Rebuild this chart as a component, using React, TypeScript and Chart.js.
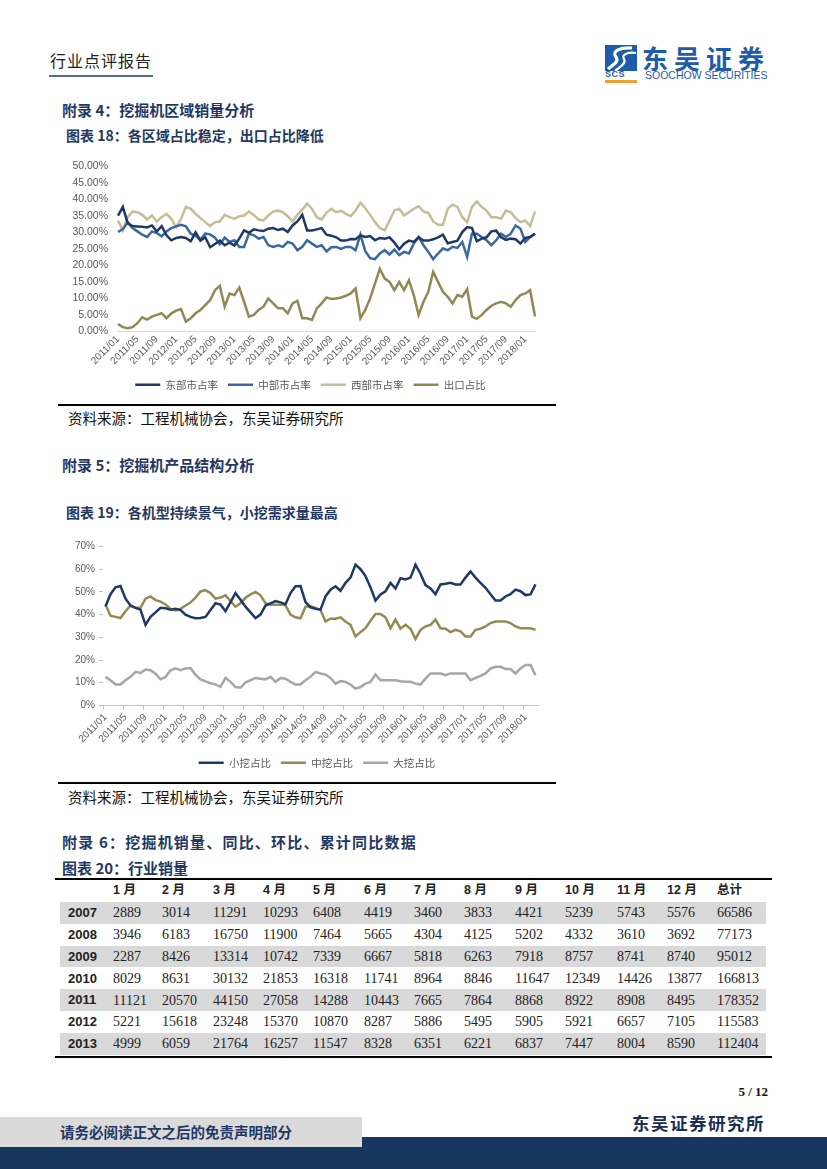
import React, { useEffect, useRef } from "react";
import { Chart, registerables } from "chart.js";

Chart.register(...registerables);

const CJK = '"Noto Sans CJK SC", sans-serif';
const SANS = '"Liberation Sans", Arial, sans-serif';
const SERIF = '"Liberation Serif", "Times New Roman", serif';

// ---------- categories ----------
const START_YEAR = 2011;
const MONTH_COUNT = 87; // 2011/01 - 2018/03
const monthLabels: string[] = Array.from({ length: MONTH_COUNT }, (_, i) => {
  const y = START_YEAR + Math.floor(i / 12);
  const m = (i % 12) + 1;
  return `${y}/${String(m).padStart(2, "0")}`;
});
const LABEL_EVERY = 4;

// ---------- chart 18: regional share (%) ----------
const eastShare = [
  35.1, 37.7, 32.8, 31.9, 31.8, 31.7, 31.5, 32.1, 30.3, 31.9,
  29.1, 27.6, 28.3, 28.6, 28.3, 27.3, 30.0, 27.5, 28.5, 25.5,
  26.5, 27.5, 26.1, 26.9, 26.0, 28.1, 30.6, 29.9, 30.9, 30.6,
  30.4, 31.1, 31.3, 30.7, 31.1, 30.1, 32.1, 33.3, 35.3, 30.6,
  30.6, 30.9, 31.3, 29.3, 29.0, 28.5, 27.5, 27.5, 28.0, 27.9,
  29.1, 28.6, 28.9, 27.6, 28.3, 28.1, 28.5, 26.9, 24.9, 26.6,
  27.5, 27.1, 28.5, 27.5, 27.5, 27.9, 28.5, 29.3, 26.7, 27.1,
  27.5, 30.1, 31.6, 31.3, 27.3, 28.1, 28.5, 30.3, 30.5, 28.5,
  27.7, 28.1, 27.9, 26.6, 28.3, 28.6, 29.6,
];
const centralShare = [
  30.1, 31.0, 33.0, 31.3, 30.3, 29.3, 28.6, 30.3, 29.8, 28.8,
  30.3, 31.3, 31.8, 32.3, 31.8, 29.6, 29.0, 27.8, 29.6, 29.4,
  28.4, 26.4, 28.4, 27.1, 27.6, 25.6, 25.6, 29.6, 29.1, 28.1,
  28.6, 26.1, 25.6, 26.1, 25.6, 27.1, 26.6, 24.6, 25.6, 27.6,
  26.6, 25.6, 26.1, 24.2, 25.5, 25.6, 25.0, 25.6, 25.6, 24.6,
  29.3, 24.3, 22.2, 21.9, 23.6, 24.6, 23.3, 24.8, 23.1, 24.1,
  23.6, 26.6, 28.6, 26.1, 24.1, 21.9, 23.6, 25.1, 24.6, 25.6,
  25.3, 27.1, 22.6, 29.6, 29.6, 28.6, 27.6, 26.1, 27.6, 29.6,
  28.6, 29.6, 32.1, 31.1, 27.1, 28.6, 29.6,
];
const westShare = [
  33.6, 30.6, 34.6, 36.3, 36.1, 35.3, 33.9, 35.1, 33.3, 34.6,
  35.6, 34.1, 31.6, 34.1, 37.7, 37.1, 35.6, 34.3, 33.1, 31.9,
  33.1, 33.3, 35.3, 34.6, 34.1, 34.9, 35.1, 36.3, 35.3, 33.9,
  33.6, 35.1, 36.3, 36.6, 36.1, 34.9, 33.3, 35.3, 36.9, 38.7,
  37.1, 34.6, 33.9, 36.0, 37.1, 36.1, 36.5, 35.6, 34.9, 36.6,
  39.0, 37.3, 35.3, 33.1, 31.3, 30.6, 33.6, 36.6, 37.1, 35.1,
  36.1, 37.1, 37.9, 36.3, 35.9, 33.3, 32.3, 32.3, 37.1, 38.4,
  37.7, 34.6, 33.1, 37.7, 39.4, 37.7, 36.6, 34.6, 34.6, 34.1,
  36.6, 36.1, 34.3, 33.1, 33.6, 31.9, 36.3,
];
const exportShare = [
  2.2, 1.3, 1.0, 1.3, 2.5, 4.3, 3.6, 4.5, 5.0, 5.5,
  4.0, 5.5, 6.3, 6.8, 3.0, 4.0, 5.5, 6.5, 8.0, 9.5,
  12.5, 13.8, 7.5, 11.5, 11.0, 13.3, 9.0, 4.5, 5.0, 6.5,
  7.5, 10.0, 8.5, 7.0, 7.0, 5.5, 8.5, 9.3, 4.0, 4.0,
  3.5, 7.0, 8.5, 10.3, 9.8, 10.0, 10.3, 10.8, 11.5, 13.0,
  4.0, 6.5, 10.0, 14.5, 19.0, 16.0, 15.0, 12.5, 15.0, 12.5,
  15.5, 11.0, 5.0, 9.0, 12.0, 18.0, 15.0, 12.0, 10.5, 8.5,
  11.0, 10.5, 12.8, 4.5, 3.8, 5.0, 6.5, 7.8, 8.5, 9.0,
  8.5, 7.5, 9.5, 11.0, 11.5, 12.5, 4.5,
];
const regionNames = ["东部市占率", "中部市占率", "西部市占率", "出口占比"];

// ---------- chart 19: product structure (%) ----------
const smallShare = [
  43.7, 49, 52, 52.6, 47, 44, 43, 42.2, 35.5, 39,
  41, 43, 42.8, 42.2, 42.6, 42, 40, 39, 38.4, 38.5,
  39, 42, 45, 44.4, 41.5, 45.5, 49.5, 46.5, 43.5, 41,
  38.5, 40, 44, 45, 46, 45.4, 44.6, 49.5, 52.5, 52.6,
  45.5, 43.2, 42.6, 42.2, 48, 51, 52.5, 50.5, 54, 56.3,
  62, 60, 57, 52, 46.2, 48.9, 50.3, 54, 51.5, 56,
  55.5, 56.3, 62, 58, 53, 51.5, 49, 53.3, 53.6, 54,
  53.3, 53.3, 56.3, 59, 56.3, 54, 51.8, 49, 46.2, 46.2,
  48, 49, 51, 50.3, 48.6, 48.9, 53.3,
];
const mediumShare = [
  44.5, 39.5, 39, 38.5, 41.5, 44, 43, 43, 47, 48,
  46.4, 45.7, 44.5, 42.5, 41.8, 42.5, 44, 45.3, 47.5, 50.2,
  50.8, 49.5, 47, 47.5, 48.5, 46, 43.5, 45, 47.4, 48.9,
  50, 48.5, 45, 44.4, 44.4, 44.4, 44.1, 40, 38.8, 38.4,
  43.5, 43.7, 43, 42, 37, 38.2, 38.2, 38.8, 37, 35.5,
  30.4, 32.3, 34, 37.3, 40.3, 40.3, 38.8, 34, 37.8, 33.8,
  35.5, 33.8, 29.3, 33.3, 34.8, 35.5, 37.8, 34, 33.8, 32.3,
  33.3, 32.6, 30.4, 30.4, 33.3, 33.8, 34.8, 36.3, 37, 37,
  37, 36.3, 34.8, 34, 34, 34, 33.3,
];
const largeShare = [
  12.6, 11.1, 9.2, 9.2, 11.1, 12.6, 14.8, 14.3, 15.8, 15.5,
  14, 11.5, 12.5, 15.5, 16.3, 15.5, 16.3, 16.5, 13.5, 11.5,
  10.6, 9.8, 9.3, 8.2, 12.1, 10.4, 8.1, 7.8, 10.2, 11.1,
  12.1, 11.8, 11.5, 12.6, 10.4, 12.1, 11.8, 10.4, 9.2, 9.2,
  11.1, 12.6, 14.8, 14.1, 13.6, 12.1, 9.6, 10.7, 10.4, 9.2,
  7.4, 8.1, 9.6, 10.4, 13.6, 11.1, 11.1, 11.1, 11.1, 10.7,
  10.4, 10.4, 9.6, 9.2, 11.8, 14.1, 14.1, 14.1, 13.3, 14.1,
  14.1, 14.1, 14.1, 11.1, 12.1, 13, 14.1, 16.3, 17, 17,
  16, 16, 14.1, 16.3, 17.8, 17.8, 13.3,
];
const productNames = ["小挖占比", "中挖占比", "大挖占比"];

// ---------- table 20: industry sales ----------
const tableYears = ["2007", "2008", "2009", "2010", "2011", "2012", "2013"];
const tableHeaders = ["1 月", "2 月", "3 月", "4 月", "5 月", "6 月", "7 月", "8 月", "9 月", "10 月", "11 月", "12 月", "总计"];
const sales2007 = [2889, 3014, 11291, 10293, 6408, 4419, 3460, 3833, 4421, 5239, 5743, 5576];
const sales2008 = [3946, 6183, 16750, 11900, 7464, 5665, 4304, 4125, 5202, 4332, 3610, 3692];
const sales2009 = [2287, 8426, 13314, 10742, 7339, 6667, 5818, 6263, 7918, 8757, 8741, 8740];
const sales2010 = [8029, 8631, 30132, 21853, 16318, 11741, 8964, 8846, 11647, 12349, 14426, 13877];
const sales2011 = [11121, 20570, 44150, 27058, 14288, 10443, 7665, 7864, 8868, 8922, 8908, 8495];
const sales2012 = [5221, 15618, 23248, 15370, 10870, 8287, 5886, 5495, 5905, 5921, 6657, 7105];
const sales2013 = [4999, 6059, 21764, 16257, 11547, 8328, 6351, 6221, 6837, 7447, 8004, 8590];
const salesTotals = [66586, 77173, 95012, 166813, 178352, 115583, 112404];
const salesRows = [sales2007, sales2008, sales2009, sales2010, sales2011, sales2012, sales2013];

// ---------- helpers ----------
const lineDs = (label: string, data: number[], color: string) => ({
  label,
  data,
  borderColor: color,
  backgroundColor: color,
  borderWidth: 2.5,
  pointRadius: 0,
  tension: 0,
  fill: false,
});

const tickColor = "#595959";

const legendOpts = (padding: number) => ({
  position: "bottom" as const,
  labels: {
    usePointStyle: true,
    pointStyle: "line",
    pointStyleWidth: 25,
    boxHeight: 10,
    font: { family: CJK, size: 10.5 },
    color: "#595959",
    padding,
  },
});

// moves the legend sideways after layout
const shiftLegend = (dx: number) => ({
  id: "shiftLegend",
  afterLayout(chart: any) {
    if (chart.legend) {
      chart.legend.left += dx;
      chart.legend.right += dx;
    }
  },
});

const regionConfig = (): any => ({
  type: "line",
  data: {
    labels: monthLabels,
    datasets: [
      lineDs(regionNames[0], eastShare, "#1F3864"),
      lineDs(regionNames[1], centralShare, "#3B67A0"),
      lineDs(regionNames[2], westShare, "#C4BD97"),
      lineDs(regionNames[3], exportShare, "#8F8A55"),
    ],
  },
  plugins: [shiftLegend(13)],
  options: {
    animation: false,
    responsive: false,
    maintainAspectRatio: false,
    layout: { padding: { top: 12, right: 20, bottom: 2, left: 0 } },
    plugins: { legend: legendOpts(10), tooltip: { enabled: false } },
    scales: {
      x: {
        offset: false,
        grid: { display: false, drawTicks: false },
        border: { display: true, color: "#D9D9D9" },
        ticks: {
          autoSkip: false,
          maxRotation: 45,
          minRotation: 45,
          padding: 2,
          font: { family: SANS, size: 10 },
          color: tickColor,
          callback: (_v: any, i: number) => (i % LABEL_EVERY === 0 ? monthLabels[i] : ""),
        },
      },
      y: {
        min: 0,
        max: 50,
        afterFit: (s: any) => {
          s.width = 58;
        },
        grid: { display: false, drawTicks: false },
        border: { display: false },
        ticks: {
          stepSize: 5,
          padding: 10,
          font: { family: SANS, size: 10.5 },
          color: tickColor,
          callback: (v: any) => Number(v).toFixed(2) + "%",
        },
      },
    },
  },
});

const productConfig = (): any => ({
  type: "line",
  data: {
    labels: monthLabels,
    datasets: [
      lineDs(productNames[0], smallShare, "#1F3864"),
      lineDs(productNames[1], mediumShare, "#948A54"),
      lineDs(productNames[2], largeShare, "#A6A6A6"),
    ],
  },
  plugins: [shiftLegend(18)],
  options: {
    animation: false,
    responsive: false,
    maintainAspectRatio: false,
    layout: { padding: { top: 17.5, right: 17, bottom: 2, left: 0 } },
    plugins: { legend: legendOpts(10), tooltip: { enabled: false } },
    scales: {
      x: {
        offset: true,
        grid: {
          display: true,
          offset: true,
          drawOnChartArea: false,
          drawTicks: true,
          tickLength: 4,
          color: (ctx: any) =>
            typeof ctx.index === "number" && ctx.index % LABEL_EVERY === 0 ? "#BFBFBF" : "rgba(0,0,0,0)",
        },
        border: { display: true, color: "#BFBFBF" },
        ticks: {
          autoSkip: false,
          maxRotation: 45,
          minRotation: 45,
          padding: 2,
          font: { family: SANS, size: 10 },
          color: tickColor,
          callback: (_v: any, i: number) => (i % LABEL_EVERY === 0 ? monthLabels[i] : ""),
        },
      },
      y: {
        min: 0,
        max: 70,
        afterFit: (s: any) => {
          s.width = 43;
        },
        grid: { display: true, drawOnChartArea: false, drawTicks: true, tickLength: 4, color: "#BFBFBF" },
        border: { display: false },
        ticks: {
          stepSize: 10,
          padding: 4,
          font: { family: SANS, size: 10 },
          color: tickColor,
          callback: (v: any) => v + "%",
        },
      },
    },
  },
});

function ChartCanvas(props: { make: () => any; left: number; top: number; width: number; height: number }) {
  const ref = useRef<HTMLCanvasElement | null>(null);
  useEffect(() => {
    if (!ref.current) return;
    const chart = new Chart(ref.current, props.make());
    return () => chart.destroy();
  }, []);
  return (
    <canvas
      ref={ref}
      width={props.width}
      height={props.height}
      style={{ position: "absolute", left: props.left, top: props.top, width: props.width, height: props.height }}
    />
  );
}

function Txt(props: {
  x: number;
  y: number;
  size: number;
  children: React.ReactNode;
  weight?: number | string;
  color?: string;
  family?: string;
  ls?: number;
  right?: boolean;
}) {
  const { x, y, size, weight = 400, color = "#000", family = CJK, ls = 0, right = false } = props;
  const style: React.CSSProperties = {
    position: "absolute",
    top: y - size * 0.75,
    fontSize: size,
    lineHeight: `${size * 1.5}px`,
    fontWeight: weight as any,
    color,
    fontFamily: family,
    letterSpacing: ls,
    whiteSpace: "nowrap",
  };
  if (right) style.right = 827 - x;
  else style.left = x;
  return <div style={style}>{props.children}</div>;
}

function Rect(props: { x: number; y: number; w: number; h: number; c: string }) {
  return (
    <div style={{ position: "absolute", left: props.x, top: props.y, width: props.w, height: props.h, background: props.c }} />
  );
}

const NAVY = "#1F3864";
const colX = [113, 162, 213, 263, 313, 364, 414, 464, 515, 565, 617, 667, 717];
const rowTop0 = 902;
const rowH = 21.8;

export default function App() {
  return (
    <div
      style={{
        position: "absolute",
        left: 0,
        top: 0,
        width: 827,
        height: 1169,
        background: "#fff",
        overflow: "hidden",
        fontFamily: CJK,
      }}
    >
      {/* header */}
      <Txt x={50} y={60} size={16} color="#222" ls={1}>
        行业点评报告
      </Txt>
      <Rect x={49} y={75} w={104} h={2} c="#5B6B85" />

      {/* logo */}
      <svg width="32" height="26" viewBox="0 0 32 26" style={{ position: "absolute", left: 605, top: 45 }}>
        <rect x="0" y="0" width="32" height="26" fill="#1E5BAA" />
        <path d="M27 3 C16 2, 6 6, 11 12 C15 17, 6 21, 3 24" stroke="#fff" strokeWidth="3.2" fill="none" />
        <path d="M31 8 C24 7, 16 9, 19 14 C22 19, 13 23, 10 26" stroke="#fff" strokeWidth="2.2" fill="none" />
      </svg>
      <Txt x={605} y={75} size={9} weight={700} color="#1E5BAA" family={SANS} ls={0.5}>
        SCS
      </Txt>
      <Rect x={605} y={80} w={32} h={2.5} c="#F0A030" />
      <Txt x={642} y={57} size={26} weight={700} color="#1E5BAA" ls={6}>
        东吴证券
      </Txt>
      <Txt x={645} y={76} size={10.5} color="#1E5BAA" family={SANS}>
        SOOCHOW SECURITIES
      </Txt>

      {/* section 4 */}
      <Txt x={62} y={110} size={15} weight={700} color={NAVY}>
        附录 4：挖掘机区域销量分析
      </Txt>
      <Txt x={66} y={135} size={14} weight={700} color={NAVY}>
        图表 18：各区域占比稳定，出口占比降低
      </Txt>
      <ChartCanvas make={regionConfig} left={60} top={150} width={495} height={252} />
      <Rect x={58} y={404} w={498} h={1.5} c="#000" />
      <Txt x={68} y={418} size={14.5} color="#111">
        资料来源：工程机械协会，东吴证券研究所
      </Txt>

      {/* section 5 */}
      <Txt x={62} y={465} size={15} weight={700} color={NAVY}>
        附录 5：挖掘机产品结构分析
      </Txt>
      <Txt x={66} y={512} size={14} weight={700} color={NAVY}>
        图表 19：各机型持续景气，小挖需求量最高
      </Txt>
      <ChartCanvas make={productConfig} left={60} top={529} width={495} height={251} />
      <Rect x={58} y={782} w={498} h={1.5} c="#000" />
      <Txt x={68} y={797} size={14.5} color="#111">
        资料来源：工程机械协会，东吴证券研究所
      </Txt>

      {/* section 6 */}
      <Txt x={62} y={842} size={15} weight={700} color={NAVY} ls={1.2}>
        附录 6：挖掘机销量、同比、环比、累计同比数据
      </Txt>
      <Txt x={62} y={868} size={15} weight={700} color={NAVY}>
        图表 20：行业销量
      </Txt>

      {/* table */}
      <Rect x={55} y={878} w={717} h={2} c="#000" />
      {tableHeaders.map((h, j) => (
        <Txt key={"h" + j} x={colX[j]} y={890} size={12.5} weight={700} color="#222" family={`${SANS}, ${CJK}`}>
          {h}
        </Txt>
      ))}
      {tableYears.map((yr, r) => {
        const top = rowTop0 + r * rowH;
        const cy = top + rowH / 2;
        return (
          <React.Fragment key={yr}>
            {r % 2 === 0 && <Rect x={60} y={top} w={706} h={rowH} c="#D9D9D9" />}
            <Txt x={68} y={cy} size={13} weight={700} color="#222" family={SANS}>
              {yr}
            </Txt>
            {salesRows[r].map((v, j) => (
              <Txt key={j} x={colX[j]} y={cy} size={14} color="#222" family={SERIF}>
                {v}
              </Txt>
            ))}
            <Txt x={colX[12]} y={cy} size={14} color="#222" family={SERIF}>
              {salesTotals[r]}
            </Txt>
          </React.Fragment>
        );
      })}
      <Rect x={55} y={rowTop0 + 7 * rowH + 1} w={717} h={2} c="#000" />

      {/* footer */}
      <Txt x={768} y={1092} size={13} weight={700} color="#111" family={SERIF} right>
        5 / 12
      </Txt>
      <Txt x={632} y={1123} size={17.5} weight={700} color="#1B2F52" ls={1.5}>
        东吴证券研究所
      </Txt>
      <Rect x={0} y={1137} w={827} h={32} c="#17375E" />
      <Rect x={0} y={1117} w={362} h={30} c="#DADADA" />
      <Txt x={60} y={1132} size={14.5} weight={700} color={NAVY}>
        请务必阅读正文之后的免责声明部分
      </Txt>
    </div>
  );
}
